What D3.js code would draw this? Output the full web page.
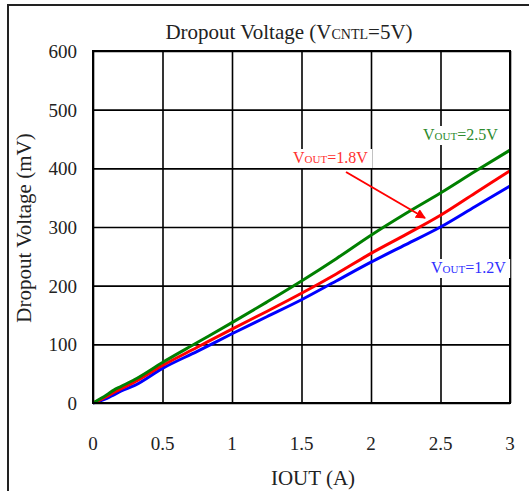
<!DOCTYPE html>
<html>
<head>
<meta charset="utf-8">
<script src="https://cdn.jsdelivr.net/npm/d3@7"></script>
<style>
  body { margin: 0; background: #fff; }
  text { font-family: "Liberation Serif", "DejaVu Serif", serif; }
</style>
</head>
<body>
<div id="chart-area"></div>
<script>
// values
let iout = [0, 0.1, 0.15, 0.2, 0.3, 0.5, 0.75, 1, 1.25, 1.5, 1.75, 2, 2.25, 2.5, 2.75, 3];
let v25 = [0, 14, 22, 28, 40, 69, 103, 137, 172, 208, 246, 286, 323, 358, 395, 431];
let v18 = [0, 11, 18, 24, 36, 64, 95, 126, 156, 187, 220, 255, 287, 320, 358, 396];
let v12 = [0, 8, 14, 20, 30, 59, 88, 118, 147, 176, 208, 240, 270, 300, 335, 370];
let xTicks = [0, 0.5, 1, 1.5, 2, 2.5, 3];
let yTicks = [0, 100, 200, 300, 400, 500, 600];

let margin = { left: 93, right: 19, top: 51, bottom: 88 };
let width = 529 - margin.left - margin.right;
let height = 491 - margin.top - margin.bottom;

let svg = d3.select('#chart-area').append('svg')
  .attr("width", 529)
  .attr("height", 491);

// outer frame (runs off the right and bottom edge)
svg.append('rect')
  .attr('x', 8).attr('y', 5)
  .attr('width', 540).attr('height', 500)
  .attr('fill', 'none')
  .attr('stroke', '#222')
  .attr('stroke-width', 2);

let g = svg.append('g')
  .attr("transform", `translate(${margin.left}, ${margin.top})`);

let x = d3.scaleLinear().domain([0, 3]).range([0, width]);
let y = d3.scaleLinear().domain([0, 600]).range([height, 0]);

// grid
let xGrid = d3.axisBottom(x).tickValues(xTicks).tickSize(-height).tickFormat('');
g.append('g')
  .attr('class', 'x-grid')
  .attr('transform', `translate(0, ${height})`)
  .call(xGrid)
  .call(s => s.select('.domain').remove())
  .selectAll('line')
    .attr('stroke', '#000')
    .attr('stroke-width', 1.6);

let yGrid = d3.axisLeft(y).tickValues(yTicks).tickSize(-width).tickFormat('');
g.append('g')
  .attr('class', 'y-grid')
  .call(yGrid)
  .call(s => s.select('.domain').remove())
  .selectAll('line')
    .attr('stroke', '#000')
    .attr('stroke-width', 1.6);

// tick labels
g.selectAll('.xlab')
  .data(xTicks)
  .enter()
  .append('text')
  .attr('class', 'xlab')
  .attr('x', d => x(d))
  .attr('y', height + 47)
  .attr('text-anchor', 'middle')
  .attr('font-size', 19)
  .attr('fill', '#222')
  .text(d => d);

g.selectAll('.ylab')
  .data(yTicks)
  .enter()
  .append('text')
  .attr('class', 'ylab')
  .attr('x', -16)
  .attr('y', d => y(d) + 7)
  .attr('text-anchor', 'end')
  .attr('font-size', 19)
  .attr('fill', '#222')
  .text(d => d);

// lines
let series = [
  { name: '1.2V', values: v12, color: '#0000ff' },
  { name: '1.8V', values: v18, color: '#ff0000' },
  { name: '2.5V', values: v25, color: '#008000' }
];

let line = d3.line()
  .x((d, i) => x(iout[i]))
  .y(d => y(d))
  .curve(d3.curveMonotoneX);

g.selectAll('.series')
  .data(series)
  .enter()
  .append('path')
  .attr('class', 'series')
  .attr('d', d => line(d.values))
  .attr('fill', 'none')
  .attr('stroke', d => d.color)
  .attr('stroke-width', 3);

// plot border
g.append('rect')
  .attr('width', width)
  .attr('height', height)
  .attr('fill', 'none')
  .attr('stroke', '#000')
  .attr('stroke-width', 2);

// series labels with white boxes
function vlabel(px, py, val, color) {
  let t = svg.append('text')
    .attr('x', px).attr('y', py)
    .attr('font-size', 16)
    .attr('fill', color);
  t.append('tspan').text('V');
  t.append('tspan').attr('font-size', 11).text('OUT');
  t.append('tspan').text('=' + val);
  let b = t.node().getBBox();
  svg.insert('rect', function() { return t.node(); })
    .attr('x', b.x - 4).attr('y', b.y)
    .attr('width', b.width + 8).attr('height', b.height + 2)
    .attr('fill', '#fff');
}

vlabel(423, 140, '2.5V', '#2e8b2e');
vlabel(293, 163, '1.8V', '#ff3030');
vlabel(431, 273, '1.2V', '#3030ff');

// arrow for 1.8V
svg.append('defs').append('marker')
  .attr('id', 'arrow')
  .attr('viewBox', '0 0 10 10')
  .attr('refX', 9).attr('refY', 5)
  .attr('markerWidth', 5).attr('markerHeight', 5)
  .attr('orient', 'auto')
  .append('path')
  .attr('d', 'M0,0 L10,5 L0,10 z')
  .attr('fill', '#ff0000');

svg.append('line')
  .attr('x1', 346).attr('y1', 172)
  .attr('x2', 425).attr('y2', 218)
  .attr('stroke', '#ff0000')
  .attr('stroke-width', 2)
  .attr('marker-end', 'url(#arrow)');

// title
let title = svg.append('text')
  .attr('x', 289).attr('y', 39)
  .attr('text-anchor', 'middle')
  .attr('font-size', 21)
  .attr('fill', '#222');
title.append('tspan').text('Dropout Voltage (V');
title.append('tspan').attr('font-size', 14).text('CNTL');
title.append('tspan').text('=5V)');

// axis titles
svg.append('text')
  .attr('x', 313).attr('y', 485)
  .attr('text-anchor', 'middle')
  .attr('font-size', 21)
  .attr('fill', '#222')
  .text('IOUT (A)');

svg.append('text')
  .attr('transform', 'translate(31, 228) rotate(-90)')
  .attr('text-anchor', 'middle')
  .attr('font-size', 21)
  .attr('fill', '#222')
  .text('Dropout Voltage (mV)');
</script>
</body>
</html>
